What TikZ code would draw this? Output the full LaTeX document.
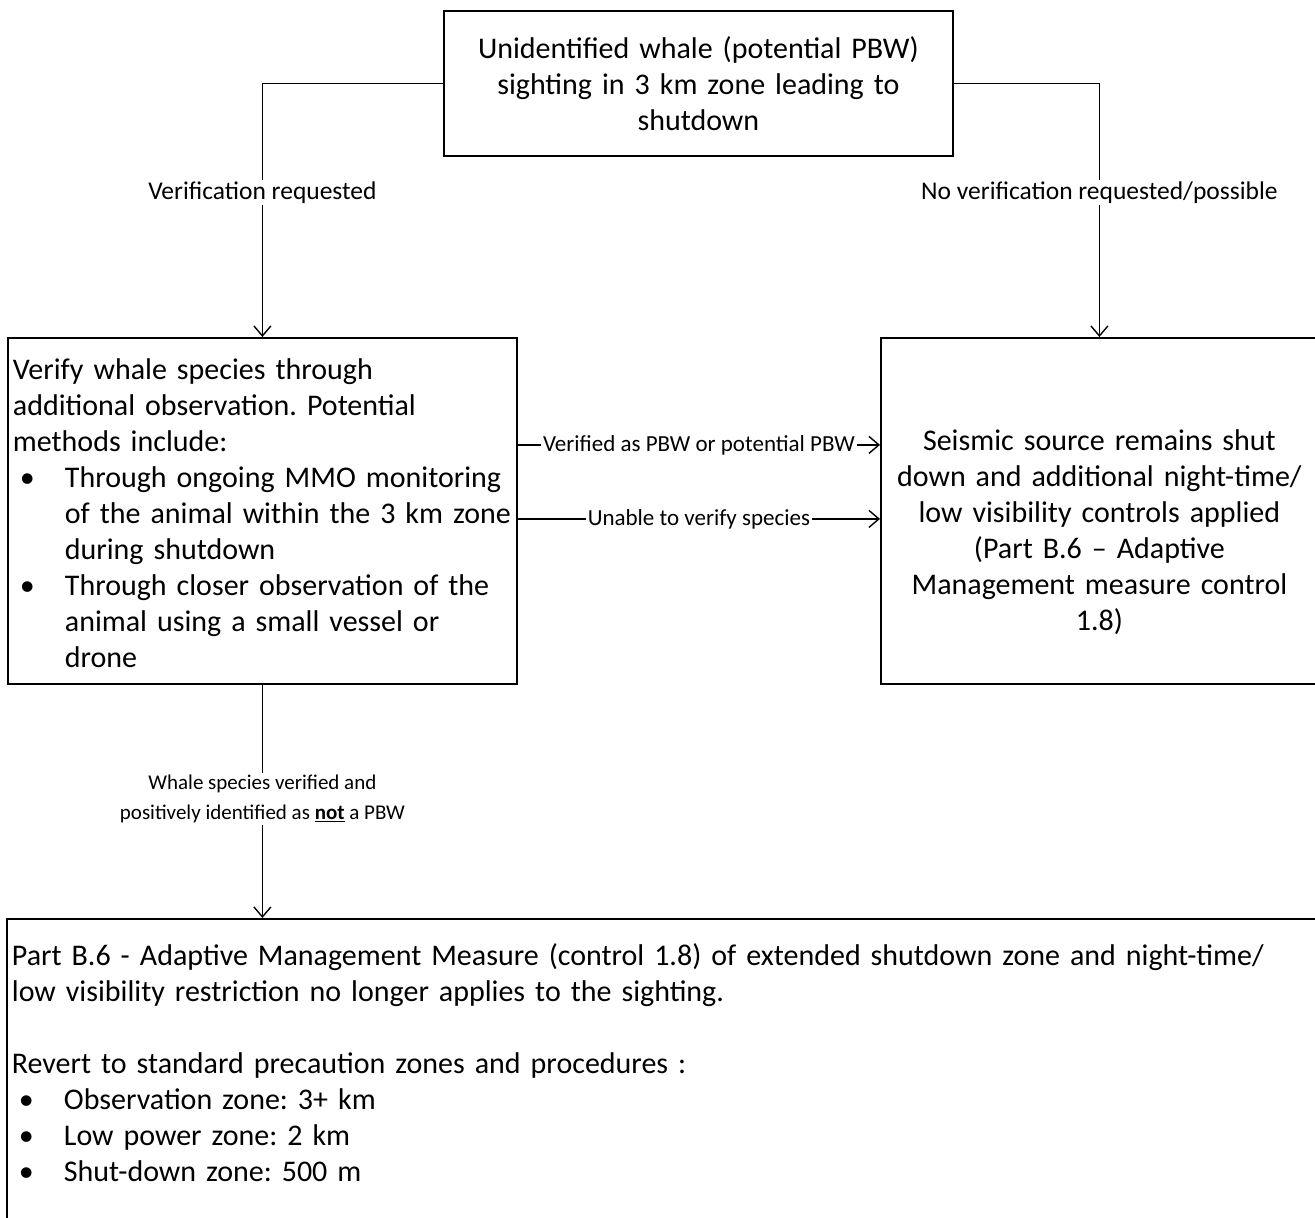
\documentclass[tikz,border=0pt]{standalone}
\usepackage{fontspec}
\setmainfont{Carlito}
\usepackage{enumitem}
\usetikzlibrary{arrows.meta,positioning,calc}
\frenchspacing
\setlist[itemize]{label=\textbullet,leftmargin=52pt,labelsep=30pt,
                  itemsep=0pt,topsep=0pt,parsep=0pt,partopsep=0pt}
\newcommand{\boxfont}{\fontsize{30}{36}\selectfont}
\newcommand{\lblfont}{\fontsize{23}{30}\selectfont}
\newcommand{\biglblfont}{\fontsize{25.5}{30}\selectfont}
\newcommand{\smlblfont}{\fontsize{21}{30}\selectfont}

\begin{document}
\begin{tikzpicture}[x=1pt,y=-1pt,
          box/.style={draw,line width=1.8pt,inner sep=8pt,font=\boxfont},
          lbl/.style={fill=white,inner sep=2pt,align=center,font=\lblfont},
          arr/.style={-{Straight Barb[length=10pt,width=17pt]},line width=1.4pt}]
        \useasboundingbox (0,0) rectangle (1315,1218);
        \node[box,anchor=north west,minimum width=509pt,minimum height=145pt,
              text width=490pt,align=center] (sight) at (443,10) {
          Unidentified whale (potential PBW)\\
          sighting in 3 km zone leading to\\
          shutdown
        };
        \node[box,anchor=north west,minimum width=509pt,minimum height=346pt,
              text width=499pt,inner xsep=5pt,inner ysep=3pt,align=left] (verify) at (7,337) {
          \rule{0pt}{26pt}Verify whale species through\\
          additional observation. Potential\\
          methods include:
          \begin{itemize}
            \item Through ongoing MMO monitoring\newline
                  \mbox{of the animal within the 3 km zone}\newline
                  during shutdown
            \item Through closer observation of the\newline
                  animal using a small vessel or\newline
                  drone
          \end{itemize}
        };
        \node[box,anchor=north west,minimum width=437pt,minimum height=346pt,
              text width=425pt,inner xsep=6pt,align=center] (ctrl) at (880,337) {
          \rule{0pt}{64pt}Seismic source remains shut\\
          down and additional night-time/\\
          low visibility controls applied\\
          (Part B.6 – Adaptive\\
          Management measure control\\
          1.8)
        };
        \node[box,anchor=north west,minimum width=1320pt,text width=1310pt,
              inner xsep=2pt,inner ysep=8pt,align=left] (revert) at (6,918) {
          \rule{0pt}{39pt}Part B.6 - Adaptive Management Measure (control 1.8) of extended shutdown zone and night-time/\\
          low visibility restriction no longer applies to the sighting.\\[36pt]
          Revert to standard precaution zones and procedures :
          \begin{itemize}
            \item Observation zone: 3+ km
            \item Low power zone: 2 km
            \item Shut-down zone: 500 m\rule[-60pt]{0pt}{1pt}
          \end{itemize}
        };
        \draw[arr] (sight.west) -| (verify.north)
          node[lbl,font=\biglblfont,pos=0.715] {Verification requested};
        \draw[arr] (sight.east) -| (ctrl.north)
          node[lbl,font=\biglblfont,pos=0.715] {No verification requested/possible};
        \draw[arr] ([yshift=66pt]verify.east) -- ([yshift=66pt]verify.east -| ctrl.west)
          node[lbl,midway] {Verified as PBW or potential PBW};
        \draw[arr] ([yshift=-8pt]verify.east) -- ([yshift=-8pt]verify.east -| ctrl.west)
          node[lbl,midway] {Unable to verify species};
        \draw[arr] (verify.south) -- (verify.south |- revert.north)
          node[lbl,font=\smlblfont,pos=0.49] {Whale species verified and\\
            positively identified as \underline{\textbf{not}} a PBW};
      \end{tikzpicture}
\end{document}
